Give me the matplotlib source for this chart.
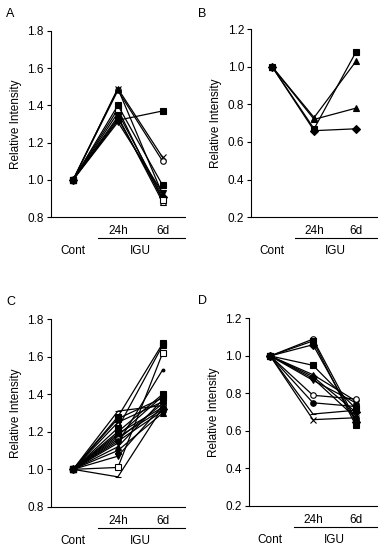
import numpy as np
import matplotlib.pyplot as plt
from matplotlib.transforms import blended_transform_factory

plt.rcParams['font.family'] = ['Liberation Sans', 'DejaVu Sans']
plt.rcParams['font.size'] = 8.5

x_pos = [1, 2, 3]
x_labels = ['24h', '6d']

# panel A: (24h, 6d) values, Cont = 1.0
a_24h = [1.32, 1.49, 1.48, 1.49, 1.36, 1.34, 1.33, 1.38, 1.31, 1.40]
a_6d = [1.37, 1.12, 1.10, 0.92, 0.91, 0.88, 0.90, 0.89, 0.93, 0.97]
a_mk = ['s', 'x', 'o', '^', 'D', '^', 'o', 's', 'v', 's']
a_fill = [1, 1, 0, 1, 1, 0, 1, 0, 1, 1]

# panel B
b_24h = [0.73, 0.72, 0.66, 0.67]
b_6d = [1.03, 0.78, 0.67, 1.08]
b_mk = ['^', '^', 'D', 's']
b_fill = [1, 1, 1, 1]

# panel C
c_24h = [1.31, 1.28, 1.25, 1.22, 1.20, 1.19, 1.18, 1.17, 1.16,
         1.15, 1.14, 1.12, 1.10, 1.07, 1.01, 0.96, 1.27]
c_6d = [1.34, 1.67, 1.36, 1.66, 1.40, 1.33, 1.39, 1.32, 1.35,
        1.31, 1.53, 1.37, 1.30, 1.34, 1.62, 1.33, 1.38]
c_mk = ['_', 's', 'x', 's', 's', 'o', '^', 'D', 'o',
        'o', '.', '^', '^', 'v', 's', '_', 's']
c_fill = [1, 1, 1, 1, 1, 1, 1, 1, 0,
          1, 1, 1, 1, 1, 0, 1, 1]

# panel D
d_24h = [1.09, 1.06, 0.95, 0.90, 0.89, 0.88, 0.87, 0.79, 0.75, 0.69, 0.66, 1.08]
d_6d = [0.66, 0.65, 0.72, 0.76, 0.70, 0.67, 0.75, 0.77, 0.73, 0.71, 0.67, 0.63]
d_mk = ['o', 'D', 's', '^', 'D', 'o', 'v', 'o', 'o', '_', 'x', 's']
d_fill = [0, 1, 1, 1, 1, 1, 1, 0, 1, 1, 1, 1]

panels = [
    ('A', a_24h, a_6d, a_mk, a_fill, (0.8, 1.8), [0.132, 0.606, 0.350, 0.338]),
    ('B', b_24h, b_6d, b_mk, b_fill, (0.2, 1.2), [0.654, 0.606, 0.328, 0.341]),
    ('C', c_24h, c_6d, c_mk, c_fill, (0.8, 1.8), [0.132, 0.080, 0.350, 0.341]),
    ('D', d_24h, d_6d, d_mk, d_fill, (0.2, 1.2), [0.648, 0.082, 0.334, 0.340]),
]
letter_pos = {'A': (0.016, 0.975), 'B': (0.516, 0.975),
              'C': (0.016, 0.451), 'D': (0.516, 0.453)}

fig = plt.figure(figsize=(3.84, 5.51), dpi=100)

for name, v24, v6, mks, fills, ylim, rect in panels:
    ax = fig.add_axes(rect)
    for y24, y6, mk, f in zip(v24, v6, mks, fills):
        ax.plot(x_pos, [1.0, y24, y6], color='black', lw=0.9,
                marker=mk, markersize=4, markeredgewidth=0.8,
                markerfacecolor='black' if f else 'white',
                markeredgecolor='black', clip_on=False)
    ax.set_xlim(0.5, 3.5)
    ax.set_ylim(*ylim)
    ticks = np.arange(ylim[0], ylim[1] + 0.01, 0.2)
    ax.set_yticks(ticks)
    ax.set_yticklabels(['%.1f' % v for v in ticks])
    ax.set_xticks([2, 3])
    ax.set_xticklabels(x_labels)
    ax.tick_params(axis='x', length=0, pad=6)
    ax.tick_params(axis='y', length=3, width=0.8, pad=2)
    for s in ['top', 'right']:
        ax.spines[s].set_visible(False)
    for s in ['left', 'bottom']:
        ax.spines[s].set_linewidth(0.8)
    ax.set_ylabel('Relative Intensity', labelpad=4)

    tr = blended_transform_factory(ax.transData, ax.transAxes)
    ax.plot([1.55, 3.5], [-0.113, -0.113], color='black', lw=0.8,
            transform=tr, clip_on=False)
    ax.text(1, -0.183, 'Cont', transform=tr, ha='center', va='center')
    ax.text(2.5, -0.183, 'IGU', transform=tr, ha='center', va='center')

    fig.text(*letter_pos[name], name, ha='left', va='center', fontsize=9)

fig.savefig('out.png', dpi=100)
